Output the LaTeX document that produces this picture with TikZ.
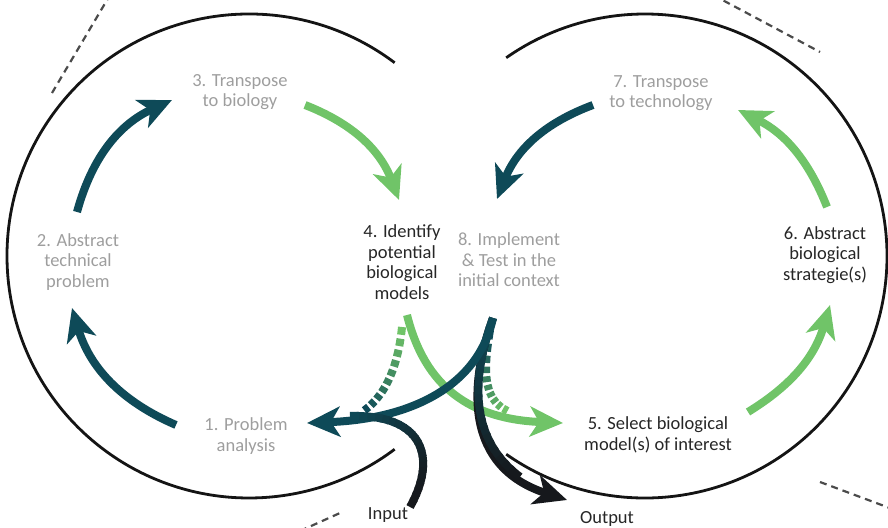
\documentclass[tikz,border=0pt]{standalone}
\usepackage{fontspec}
\setmainfont{Carlito}
\usetikzlibrary{arrows.meta}
\definecolor{tealc}{RGB}{14,74,88}
\definecolor{greenc}{RGB}{112,196,104}
\definecolor{graytxt}{RGB}{158,158,158}
\definecolor{darktxt}{RGB}{38,38,38}
\definecolor{ringc}{RGB}{20,20,20}
\definecolor{dashc}{RGB}{75,75,75}
\definecolor{outc}{RGB}{22,24,28}
\begin{document}
\begin{tikzpicture}[x=1pt,y=1pt,
  ring/.style={line width=2.8pt, draw=ringc},
  guide/.style={line width=2.2pt, draw=dashc, dash pattern=on 7pt off 5pt},
  flow/.style={line width=8pt, -{Stealth[length=33pt,width=30pt,inset=9pt]}},
  lbl/.style={align=center, inner sep=0pt, font=\fontsize{18.5}{20.5}\selectfont},
  soft/.style={lbl, text=graytxt},
  hard/.style={lbl, text=darktxt}]
\useasboundingbox (0,0) rectangle (888,527);
\clip (0,0) rectangle (888,527);

% ring centres
\coordinate (Lc) at (249,271);
\coordinate (Rc) at (645,271);
\draw[ring] (Lc) ++(53:242) arc[start angle=53, end angle=307, radius=242];
\draw[ring] (Rc) ++(-125:242) arc[start angle=-125, end angle=125, radius=242];

% dashed guides
\coordinate (g1a) at (52,434);  \coordinate (g1b) at (110,532);
\coordinate (g2a) at (713,532); \coordinate (g2b) at (820,475);
\coordinate (g3a) at (820,45);  \coordinate (g3b) at (895,17);
\coordinate (g4a) at (300,-4);  \coordinate (g4b) at (340,14);
\draw[guide] (g1a) -- (g1b);
\draw[guide] (g2a) -- (g2b);
\draw[guide] (g3a) -- (g3b);
\draw[guide] (g4a) -- (g4b);

% labels
\node[soft] (t3) at (240,435) {3. Transpose\\to biology};
\node[soft] (t7) at (661,434) {7. Transpose\\to technology};
\node[soft] (t2) at (78,265) {2. Abstract\\technical\\problem};
\node[hard] (t6) at (825,272) {6. Abstract\\biological\\strategie(s)};
\node[hard] (t4) at (402,265) {4. Identify\\potential\\biological\\models};
\node[soft] (t8) at (509,267) {8. Implement\\\&\ Test in the\\initial context};
\node[soft] (t1) at (246,91) {1. Problem\\analysis};
\node[hard] (t5) at (658,92) {5. Select biological\\model(s) of interest};
\node[hard] (tin) at (388,12) {Input};
\node[hard] (tout) at (607,8) {Output};

% cycle arrows
\coordinate (a12s) at (176,102); \coordinate (a12e) at (72,219);
\coordinate (a23s) at (77,315);  \coordinate (a23e) at (172,427);
\coordinate (a34s) at (305,422); \coordinate (a34e) at (399,327);
\coordinate (a78s) at (593,422); \coordinate (a78e) at (497,328);
\coordinate (a56s) at (748,115); \coordinate (a56e) at (830,222);
\coordinate (a67s) at (827,320); \coordinate (a67e) at (738,417);
\draw[flow, tealc] (a12s) to[bend left=25] (a12e);
\draw[flow, tealc] (a23s) to[bend left=25] (a23e);
\draw[flow, greenc] (a34s) to[bend left=24] (a34e);
\draw[flow, tealc] (a78s) to[bend right=24] (a78e);
\draw[flow, greenc] (a56s) to[bend right=21] (a56e);
\draw[flow, greenc] (a67s) to[bend right=21] (a67e);

% centre crossing
\coordinate (g5s) at (407,212); \coordinate (g5a) at (425,140);
\coordinate (g5b) at (470,108); \coordinate (g5e) at (563,104);
\draw[flow, greenc] (g5s) .. controls (g5a) and (g5b) .. (g5e);

% striped bands
\coordinate (b1s) at (402,200); \coordinate (b1a) at (398,160);
\coordinate (b1b) at (385,130); \coordinate (b1e) at (362,115);
\coordinate (b2s) at (490,197); \coordinate (b2a) at (482,150);
\coordinate (b2b) at (485,125); \coordinate (b2e) at (510,115);
\foreach \i in {0,...,9}{
  \pgfmathsetmacro\ta{\i/10}
  \pgfmathsetmacro\tb{\i/10+0.066}
  \pgfmathsetmacro\pc{100*\i/9}
  \colorlet{segc}{tealc!\pc!greenc}
  \pgfsetlinewidth{8pt}\pgfsetbuttcap
  \pgfsetstrokecolor{segc}
  \pgfpathcurvebetweentime{\ta}{\tb}{\pgfpointanchor{b1s}{center}}{\pgfpointanchor{b1a}{center}}{\pgfpointanchor{b1b}{center}}{\pgfpointanchor{b1e}{center}}
  \pgfusepath{stroke}
  \colorlet{segd}{greenc!\pc!tealc}
  \pgfsetstrokecolor{segd}
  \pgfpathcurvebetweentime{\ta}{\tb}{\pgfpointanchor{b2s}{center}}{\pgfpointanchor{b2a}{center}}{\pgfpointanchor{b2b}{center}}{\pgfpointanchor{b2e}{center}}
  \pgfusepath{stroke}
}

% output arrow
\coordinate (o8) at (493,209); \coordinate (ooa) at (468,140);
\coordinate (oob) at (465,60); \coordinate (oout) at (567,27);
\draw[flow, outc] (o8) .. controls (ooa) and (oob) .. (oout);
\foreach \i in {0,...,19}{
  \pgfmathsetmacro\ta{0.8*\i/20}
  \pgfmathsetmacro\tb{0.8*(\i+1.3)/20}
  \pgfmathsetmacro\pc{100*(1-(\i+0.5)/20)}
  \colorlet{segc}{tealc!\pc!outc}
  \pgfsetlinewidth{8pt}\pgfsetbuttcap
  \pgfsetstrokecolor{segc}
  \pgfpathcurvebetweentime{\ta}{\tb}{\pgfpointanchor{o8}{center}}{\pgfpointanchor{ooa}{center}}{\pgfpointanchor{oob}{center}}{\pgfpointanchor{oout}{center}}
  \pgfusepath{stroke}
}

% teal arrow 8 -> 1
\coordinate (p8a) at (478,140); \coordinate (p8b) at (410,108);
\coordinate (p1) at (307,104);
\draw[flow, tealc] (o8) .. controls (p8a) and (p8b) .. (p1);

% input arrow
\coordinate (i1) at (410,20); \coordinate (i1a) at (437,68);
\coordinate (i1b) at (425,113); \coordinate (i2) at (350,111);
\foreach \i in {0,...,23}{
  \pgfmathsetmacro\ta{\i/24}
  \pgfmathsetmacro\tb{min(1,(\i+1.3)/24)}
  \pgfmathsetmacro\pc{100*((\i+0.5)/24)^1.6}
  \colorlet{segc}{tealc!\pc!outc}
  \pgfsetlinewidth{8pt}\pgfsetbuttcap
  \pgfsetstrokecolor{segc}
  \pgfpathcurvebetweentime{\ta}{\tb}{\pgfpointanchor{i1}{center}}{\pgfpointanchor{i1a}{center}}{\pgfpointanchor{i1b}{center}}{\pgfpointanchor{i2}{center}}
  \pgfusepath{stroke}
}
\end{tikzpicture}
\end{document}
